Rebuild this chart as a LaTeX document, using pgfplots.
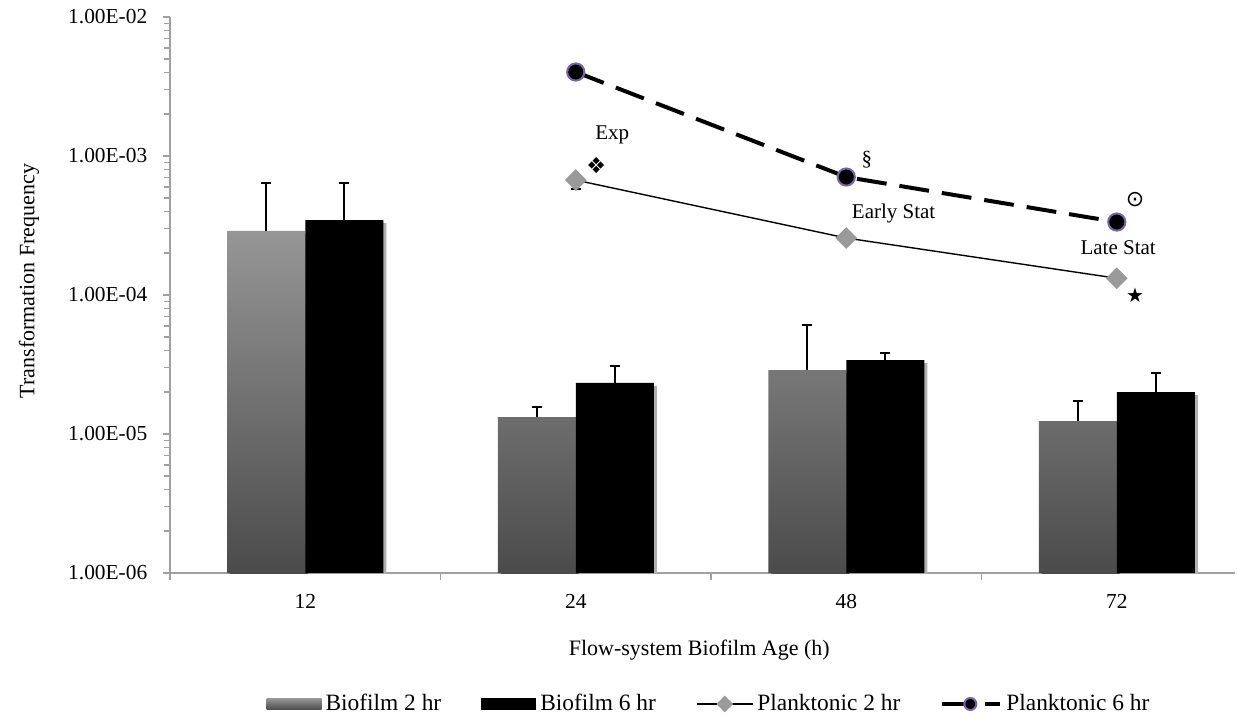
\documentclass[border=0pt]{standalone}
\usepackage{pgfplots}
\pgfplotsset{compat=1.18}
\usepackage{fontspec}
\setmainfont{Liberation Serif}
\newfontfamily\symfont{DejaVu Sans}
\usetikzlibrary{shadows}

\definecolor{axisgray}{HTML}{A0A0A0}
\definecolor{bartop}{HTML}{969696}
\definecolor{barbot}{HTML}{4B4B4B}
\definecolor{markgray}{HTML}{9A9A9A}
\definecolor{glow}{HTML}{7A64A6}
\definecolor{shadowgray}{HTML}{B0B0B0}

% vertical grey ramp for the legend swatch (100bp square, as \pgfshadepath expects)
\pgfdeclareverticalshading{legramp}{100bp}{color(0bp)=(barbot); color(25bp)=(barbot); color(75bp)=(bartop); color(100bp)=(bartop)}

\begin{document}
\fontsize{11}{13}\selectfont
\begin{tikzpicture}
\useasboundingbox (-85pt,-71.5pt) rectangle (533.5pt,286.5pt);
\begin{axis}[
  at={(0,0)}, anchor=south west,
  scale only axis,
  width=532.5pt, height=278pt,
  ymode=log, ymin=1e-6, ymax=1e-2,
  log origin y=infty,
  xmin=-0.5, xmax=3.437,
  axis x line*=bottom, axis y line*=left,
  axis line style={axisgray, line width=0.8pt, -},
  tick align=outside,
  major tick length=3.5pt,
  tick style={axisgray, line width=0.8pt},
  tick label style={font=\fontsize{10.7}{12}\selectfont},
  label style={font=\fontsize{11.7}{13}\selectfont},
  ytick={1e-6,1e-5,1e-4,1e-3,1e-2},
  yticklabels={1.00E-06,1.00E-05,1.00E-04,1.00E-03,1.00E-02},
  yticklabel style={xshift=-4pt},
  xtick={-0.5,0.5,1.5,2.5},
  xticklabels={},
  extra x ticks={0,1,2,3},
  extra x tick labels={12,24,48,72},
  extra x tick style={major tick length=0pt, xticklabel style={yshift=-7pt}},
  xlabel={Flow-system Biofilm Age (h)},
  ylabel={Transformation Frequency},
  every axis x label/.style={at={(axis description cs:0.497,-0.1385)}, anchor=center},
  every axis y label/.style={at={(axis description cs:-0.1324,0.525)}, rotate=90, anchor=center},
  legend columns=4,
  legend style={draw=none, fill=none, at={(axis description cs:0.507,-0.2356)}, anchor=center,
    font=\fontsize{11.7}{13}\selectfont,
    /tikz/every even column/.append style={column sep=18pt},
    nodes={inner sep=2pt}},
  legend cell align=left,
]
% Biofilm 2 hr (bars drawn left of each category, upper error only)
\addplot[ybar, bar width=39pt, bar shift=0pt, draw=none,
  top color=bartop, bottom color=barbot,
  drop shadow={shadow xshift=1.5pt, shadow yshift=-1.5pt, fill=shadowgray, opacity=1},
  legend image code/.code={\pgfpathrectangle{\pgfpoint{0pt}{-2.8pt}}{\pgfpoint{27.5pt}{5.6pt}}\pgfshadepath{legramp}{0}\pgfusepath{discard}},
  error bars/.cd, y dir=plus, y explicit,
  error bar style={draw=black, line width=0.9pt},
  error mark options={rotate=90, draw=black, mark size=2.6pt, line width=0.9pt}]
coordinates {(-0.1442,2.89e-4) +- (0,3.5e-4) (0.8558,1.32e-5) +- (0,0.24e-5)
             (1.8558,2.88e-5) +- (0,3.2e-5) (2.8558,1.24e-5) +- (0,0.49e-5)};
\addlegendentry{Biofilm 2 hr}
% Biofilm 6 hr (right of each category)
\addplot[ybar, bar width=39pt, bar shift=0pt, draw=none, fill=black,
  drop shadow={shadow xshift=1.5pt, shadow yshift=-1.5pt, fill=shadowgray, opacity=1},
  legend image code/.code={\pgfsetfillcolor{black}\pgfpathrectangle{\pgfpoint{0pt}{-2.8pt}}{\pgfpoint{27.5pt}{5.6pt}}\pgfusepath{fill}},
  error bars/.cd, y dir=plus, y explicit,
  error bar style={draw=black, line width=0.9pt},
  error mark options={rotate=90, draw=black, mark size=2.6pt, line width=0.9pt}]
coordinates {(0.1442,3.46e-4) +- (0,2.94e-4) (1.1442,2.33e-5) +- (0,0.75e-5)
             (2.1442,3.40e-5) +- (0,0.43e-5) (3.1442,2.00e-5) +- (0,0.75e-5)};
\addlegendentry{Biofilm 6 hr}
% Planktonic 2 hr
\addplot[black, line width=0.7pt, mark=square*, mark size=3.5pt,
  mark options={solid, rotate=45, fill=markgray, draw=markgray},
  legend image code/.code={\draw[mark repeat=2, mark phase=2, mark size=2.6pt] plot coordinates {(0pt,0pt) (14pt,0pt) (28pt,0pt)};},
  error bars/.cd, y dir=minus, y explicit,
  error bar style={draw=black, line width=0.9pt},
  error mark options={rotate=90, draw=black, mark size=2.6pt, line width=0.9pt}]
coordinates {(1,6.71e-4) +- (0,0.9e-4) (2,2.57e-4) +- (0,0) (3,1.32e-4) +- (0,0)};
\addlegendentry{Planktonic 2 hr}
% Planktonic 6 hr
\addplot[black, line width=2pt, dash pattern=on 15pt off 6.5pt, mark=*, mark size=4.3pt,
  mark options={solid, fill=black, draw=glow, line width=1pt},
  legend image code/.code={\draw[mark repeat=2, mark phase=2, mark size=3pt] plot coordinates {(0pt,0pt) (14pt,0pt) (29pt,0pt)};}]
coordinates {(1,4.02e-3) (2,7.06e-4) (3,3.35e-4)};
\addlegendentry{Planktonic 6 hr}
% growth-phase notes
\begin{scope}[every node/.style={font=\fontsize{10.5}{12}\selectfont}]
\node at (axis cs:1.135,1.42e-3) {Exp};
\node at (axis cs:1.076,8.6e-4) {\symfont\fontsize{11}{12}\selectfont ❖};
\node at (axis cs:2.076,9.35e-4) {§};
\node at (axis cs:2.175,3.89e-4) {Early Stat};
\node at (axis cs:3.005,2.18e-4) {Late Stat};
\node at (axis cs:3.068,4.82e-4) {\symfont\fontsize{11}{12}\selectfont ⊙};
\node at (axis cs:3.068,1.0e-4) {\symfont\fontsize{10}{11}\selectfont ★};
\end{scope}
\end{axis}
\end{tikzpicture}
\end{document}
